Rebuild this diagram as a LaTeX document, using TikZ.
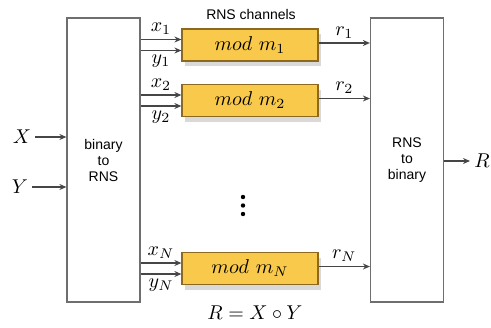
\documentclass[tikz,border=0pt]{standalone}
\usepackage{fontspec}
\setsansfont{Liberation Sans}
\usetikzlibrary{arrows.meta,shadows,positioning}
\definecolor{modfill}{RGB}{248,201,74}
\definecolor{modline}{RGB}{140,105,30}
\definecolor{boxline}{RGB}{110,110,110}
\definecolor{arrline}{RGB}{70,70,70}

\begin{document}
\begin{tikzpicture}[
  x=0.5pt, y=-0.5pt,
  conv/.style={rectangle, draw=boxline, line width=0.6pt, minimum width=36.5pt,
               minimum height=142pt, font=\sffamily\scriptsize, align=center,
               inner sep=0pt},
  chan/.style={rectangle, draw=modline, fill=modfill, line width=0.6pt,
               minimum width=68pt, minimum height=16pt, inner sep=0pt,
               drop shadow={shadow xshift=1.5pt, shadow yshift=-2.5pt,
                            opacity=0.25, fill=black!60}},
  arr/.style={-{Stealth[length=3.5pt,width=3pt]}, line width=0.6pt, arrline},
  lbl/.style={font=\normalsize, text=black, inner sep=2pt}
]
\useasboundingbox (0,0) rectangle (491,327);

% converters
\node[conv] (bin) at (103.5,160) {binary\\to\\RNS};
\node[conv] (rns) at (407,160) {RNS\\to\\binary};

% channels
\node[font=\sffamily\scriptsize] (title) at (251,14) {RNS channels};
\node[chan] (mod1) at (250,45) {$mod\ m_1$};
\node[chan] (mod2) at (250,100.5) {$mod\ m_2$};
\node[chan] (modN) at (250,268.5) {$mod\ m_N$};
\foreach \k in {197,205.5,214}
  \fill (243,\k) circle (1.1pt);

% inputs and output
\node[lbl] (X) at (22,137) {$X$};
\node[lbl] (Y) at (20,187) {$Y$};
\node[lbl, anchor=west] (R) at (470,161) {$R$};
\draw[arr] (X.east) -- (X -| bin.west);
\draw[arr] (Y.east) -- (Y -| bin.west);
\draw[arr] (rns.east |- R) -- (R.west);

\foreach \m/\s in {mod1/1,mod2/2,modN/N} {
  \coordinate (xin) at ([yshift=2.75pt]\m.west);
  \coordinate (yin) at ([yshift=-2.75pt]\m.west);
  \coordinate (rout) at ([yshift=1pt]\m.east);
  \draw[arr] (bin.east |- xin) -- (xin) node[lbl, midway, above] {$x_{\s}$};
  \draw[arr] (bin.east |- yin) -- (yin) node[lbl, midway, below] {$y_{\s}$};
  \draw[arr] (rout) -- (rns.west |- rout) node[lbl, midway, above] {$r_{\s}$};
}

\node[lbl] (eq) at (255,313) {$R = X \circ Y$};
\end{tikzpicture}
\end{document}
